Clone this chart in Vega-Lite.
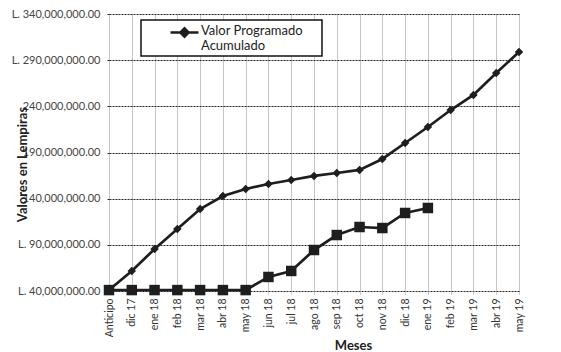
{
  "$schema": "https://vega.github.io/schema/vega-lite/v6.json",
  "autosize": {"type": "none"},
  "padding": {"left": 109, "top": 14, "right": 42, "bottom": 61},
  "width": 410,
  "height": 277,
  "background": "white",
  "config": {
    "view": {"stroke": null},
    "font": "Lato"
  },
  "data": {
    "values": [
      {"mes": "Anticipo", "programado": 41000000, "ejecutado": 41000000},
      {"mes": "dic 17", "programado": 61700000, "ejecutado": 41000000},
      {"mes": "ene 18", "programado": 85500000, "ejecutado": 41000000},
      {"mes": "feb 18", "programado": 107200000, "ejecutado": 41000000},
      {"mes": "mar 18", "programado": 128800000, "ejecutado": 41000000},
      {"mes": "abr 18", "programado": 142900000, "ejecutado": 41000000},
      {"mes": "may 18", "programado": 150500000, "ejecutado": 41000000},
      {"mes": "jun 18", "programado": 155900000, "ejecutado": 55200000},
      {"mes": "jul 18", "programado": 160200000, "ejecutado": 61700000},
      {"mes": "ago 18", "programado": 164600000, "ejecutado": 84400000},
      {"mes": "sep 18", "programado": 167800000, "ejecutado": 100600000},
      {"mes": "oct 18", "programado": 171100000, "ejecutado": 109300000},
      {"mes": "nov 18", "programado": 183000000, "ejecutado": 108200000},
      {"mes": "dic 18", "programado": 200300000, "ejecutado": 124500000},
      {"mes": "ene 19", "programado": 217600000, "ejecutado": 129900000},
      {"mes": "feb 19", "programado": 236000000, "ejecutado": null},
      {"mes": "mar 19", "programado": 252300000, "ejecutado": null},
      {"mes": "abr 19", "programado": 276100000, "ejecutado": null},
      {"mes": "may 19", "programado": 298900000, "ejecutado": null}
    ]
  },
  "encoding": {
    "x": {
      "field": "mes", "type": "ordinal", "sort": null,
      "scale": {"type": "point", "padding": 0},
      "axis": {
        "title": "Meses", "titleFont": "Lato", "titleFontSize": 13, "titleFontWeight": "bold", "titleColor": "#222",
        "titleX": 244, "titleY": 54, "titleBaseline": "middle", "titleAlign": "center",
        "labelAngle": -90, "labelAlign": "right", "labelBaseline": "middle", "labelFontSize": 10.5, "labelColor": "#333", "labelPadding": 4,
        "domain": false, "ticks": true, "tickSize": 3, "tickColor": "#999", "tickDash": [1, 1],
        "grid": true, "gridColor": "#8a8a8a", "gridDash": [1, 1], "gridWidth": 1
      }
    }
  },
  "layer": [
    {
      "mark": {"type": "line", "strokeWidth": 2.7},
      "encoding": {
        "y": {
          "field": "programado", "type": "quantitative",
          "scale": {"domain": [40000000, 340000000], "nice": false, "zero": false},
          "axis": {
            "values": [40000000, 90000000, 140000000, 190000000, 240000000, 290000000, 340000000],
            "labelExpr": "(datum.value >= 140000000 && datum.value <= 240000000 ? '' : 'L. ') + format(datum.value, ',.2f')",
            "labelFontSize": 11, "labelColor": "#444", "labelPadding": 6,
            "title": "Valores en Lempiras", "titleFont": "Lato", "titleFontSize": 13, "titleFontWeight": "bold", "titleColor": "#222",
            "titleAngle": 270, "titleX": -87, "titleY": 150, "titleAlign": "center", "titleBaseline": "middle",
            "domain": false, "ticks": true, "tickSize": 3, "tickColor": "#222", "tickDash": [2, 1],
            "grid": true, "gridColor": "#222", "gridDash": [2, 1], "gridWidth": 1
          }
        },
        "color": {
          "datum": "Valor Programado Acumulado",
          "scale": {"range": ["#1e1e1e"]},
          "legend": {
            "title": "xxx", "titleOrient": "right", "titleColor": "white", "titleFontSize": 10, "titlePadding": 0,
            "orient": "none", "legendX": 32, "legendY": 6,
            "labelExpr": "['Valor Programado', 'Acumulado']",
            "labelFont": "Lato", "labelFontSize": 13, "labelColor": "#222", "labelBaseline": "top", "labelLineHeight": 16,
            "symbolType": "M-1.75,0H1.75M0,-0.5L0.5,0L0,0.5L-0.5,0Z", "symbolSize": 256,
            "symbolStrokeWidth": 2.7, "symbolFillColor": "#1e1e1e", "symbolStrokeColor": "#1e1e1e",
            "symbolOffset": 31, "labelOffset": 7,
            "padding": 3, "strokeColor": "#111", "fillColor": "white",
            "encode": {
              "legend": {"update": {"strokeWidth": {"value": 1.5}}},
              "labels": {"update": {"dy": {"value": -8}}}
            }
          }
        }
      }
    },
    {
      "mark": {"type": "point", "shape": "diamond", "filled": true, "size": 72, "color": "#1e1e1e", "opacity": 1},
      "encoding": {"y": {"field": "programado", "type": "quantitative"}}
    },
    {
      "transform": [{"filter": "datum.ejecutado != null"}],
      "mark": {"type": "line", "strokeWidth": 2.7, "color": "#1e1e1e"},
      "encoding": {"y": {"field": "ejecutado", "type": "quantitative"}}
    },
    {
      "transform": [{"filter": "datum.ejecutado != null"}],
      "mark": {"type": "point", "shape": "square", "filled": true, "size": 110, "color": "#1e1e1e", "opacity": 1},
      "encoding": {"y": {"field": "ejecutado", "type": "quantitative"}}
    }
  ]
}
